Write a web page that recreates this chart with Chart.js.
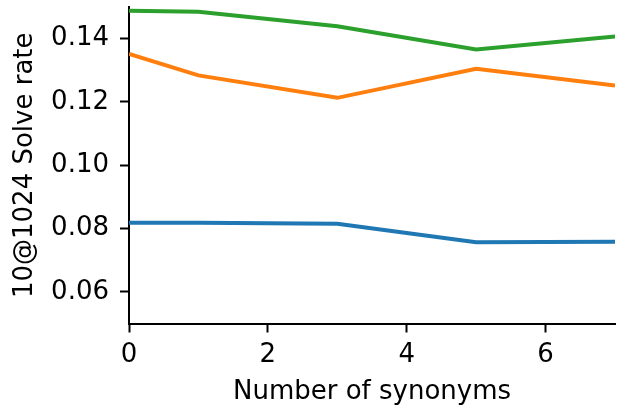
<!DOCTYPE html>
<html>
<head>
<meta charset="utf-8">
<script src="https://cdn.jsdelivr.net/npm/chart.js@4.4.0/dist/chart.umd.min.js"></script>
<style>
    html, body { margin: 0; padding: 0; background: #fff; }
    #wrap { width: 622px; height: 409px; position: relative; }
</style>
</head>
<body>
<div id="wrap"><canvas id="chart"></canvas></div>
<script>
// values
const synonyms = [0, 1, 3, 5, 7];
const blueRate = [0.0818, 0.0818, 0.0815, 0.0757, 0.0758];
const orangeRate = [0.1352, 0.1284, 0.1213, 0.1305, 0.1252];
const greenRate = [0.1488, 0.1485, 0.1439, 0.1366, 0.1407];

const xTicks = [0, 2, 4, 6];
const yTicks = [0.06, 0.08, 0.10, 0.12, 0.14];

const FONT = 'DejaVu Sans';
const FONT_SIZE = 26;

function toPoints(values) {
    return synonyms.map((x, i) => ({ x: x, y: values[i] }));
}

function makeLine(values, color) {
    return {
        data: toPoints(values),
        borderColor: color,
        backgroundColor: color,
        borderWidth: 4,
        pointRadius: 0,
        pointHoverRadius: 0,
        tension: 0,
        fill: false
    };
}

const ctx = document.getElementById('chart').getContext('2d');

new Chart(ctx, {
    type: 'line',
    data: {
        datasets: [
            makeLine(blueRate, '#1f77b4'),
            makeLine(orangeRate, '#ff7f0e'),
            makeLine(greenRate, '#2ca02c')
        ]
    },
    options: {
        responsive: true,
        maintainAspectRatio: false,
        animation: false,
        events: [],
        layout: { padding: { top: 7, right: 7, left: 0, bottom: 0 } },
        plugins: {
            legend: { display: false },
            tooltip: { enabled: false }
        },
        scales: {
            x: {
                type: 'linear',
                min: 0,
                max: 7,
                afterBuildTicks: scale => { scale.ticks = xTicks.map(v => ({ value: v })); },
                afterFit: scale => {
                    scale.height = 85.5;
                    scale.paddingLeft = 0;
                    scale.paddingRight = 0;
                },
                grid: {
                    drawOnChartArea: false,
                    drawTicks: true,
                    tickLength: 9,
                    tickWidth: 2,
                    tickColor: '#000'
                },
                border: { display: true, color: '#000', width: 2 },
                ticks: {
                    color: '#000',
                    padding: 7,
                    maxRotation: 0,
                    autoSkip: false,
                    font: { family: FONT, size: FONT_SIZE },
                    callback: v => String(v)
                },
                title: {
                    display: true,
                    text: 'Number of synonyms',
                    color: '#000',
                    padding: { top: 0, bottom: 1 },
                    font: { family: FONT, size: FONT_SIZE }
                }
            },
            y: {
                min: 0.05,
                max: 0.15,
                afterBuildTicks: scale => { scale.ticks = yTicks.map(v => ({ value: v })); },
                afterFit: scale => {
                    scale.width = 129;
                    scale.paddingTop = 0;
                    scale.paddingBottom = 0;
                },
                grid: {
                    drawOnChartArea: false,
                    drawTicks: true,
                    tickLength: 9,
                    tickWidth: 2,
                    tickColor: '#000'
                },
                border: { display: true, color: '#000', width: 2 },
                ticks: {
                    color: '#000',
                    padding: 11,
                    autoSkip: false,
                    font: { family: FONT, size: FONT_SIZE },
                    callback: v => v.toFixed(2)
                },
                title: {
                    display: true,
                    text: '10@1024 Solve rate',
                    color: '#000',
                    padding: { top: 10, bottom: 0 },
                    font: { family: FONT, size: FONT_SIZE }
                }
            }
        }
    }
});
</script>
</body>
</html>
